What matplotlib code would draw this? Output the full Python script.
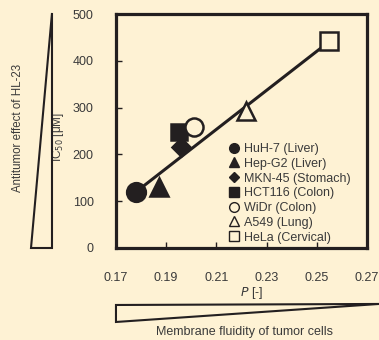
import numpy as np
import matplotlib
matplotlib.use("Agg")
import matplotlib.pyplot as plt
from matplotlib.patches import Polygon
from matplotlib.lines import Line2D

plt.rcParams['font.family'] = ['Liberation Sans', 'DejaVu Sans']
plt.rcParams['font.size'] = 9

bg = '#fef2d4'
ink = '#231f20'
txt = '#3a3a3a'

# cell lines: membrane fluidity P vs IC50 of HL-23
cells = ['HuH-7 (Liver)', 'Hep-G2 (Liver)', 'MKN-45 (Stomach)', 'HCT116 (Colon)',
         'WiDr (Colon)', 'A549 (Lung)', 'HeLa (Cervical)']
p_val = [0.178, 0.187, 0.196, 0.195, 0.201, 0.222, 0.255]
ic50 = [120, 130, 215, 248, 258, 292, 442]
markers = ['o', '^', 'D', 's', 'o', '^', 's']
filled = [True, True, True, True, False, False, False]
sizes = [13.5, 12.5, 9, 12, 13, 13, 13]

# regression line
trend_x = [0.178, 0.256]
slope, intercept = 4170, -622.3

xticks = [0.17, 0.19, 0.21, 0.23, 0.25, 0.27]
yticks = [0, 100, 200, 300, 400, 500]

fig = plt.figure(figsize=(3.79, 3.40), dpi=100, facecolor=bg)
ax = fig.add_axes([0.306, 0.2706, 0.662, 0.6882], facecolor=bg)

tx = np.array(trend_x)
ax.plot(tx, slope * tx + intercept, color=ink, lw=2.2, zorder=2)

for x, y, m, f, s in zip(p_val, ic50, markers, filled, sizes):
    ax.plot(x, y, marker=m, ms=s, mfc=ink if f else bg, mec=ink, mew=1.8,
            ls='none', zorder=3)

ax.set_xlim(0.17, 0.27)
ax.set_ylim(0, 500)
ax.set_xticks(xticks)
ax.set_yticks(yticks)
ax.set_xticklabels(['%.2f' % v for v in xticks])
ax.tick_params(direction='in', length=4, width=1, colors=ink, labelcolor=txt,
               labelsize=9)
ax.tick_params(axis='x', pad=17)
ax.tick_params(axis='y', pad=16)
for sp in ax.spines.values():
    sp.set_linewidth(2.3)
    sp.set_color(ink)

ax.set_ylabel('IC$_{50}$ [μM]', color=txt, fontsize=8.5)
ax.yaxis.set_label_coords(-0.2, 0.474)
ax.set_xlabel(r'$\it{P}$ [-]', color=txt, fontsize=9)
ax.xaxis.set_label_coords(0.54, -0.158)

handles = [Line2D([], [], marker=m, ls='none', ms=7, mfc=ink if f else bg,
                  mec=ink, mew=1.0) for m, f in zip(markers, filled)]
handles[2].set_markersize(5.5)
leg = ax.legend(handles, cells, loc='upper left', bbox_to_anchor=(0.435, 0.47),
                frameon=False, handlelength=0.6, handletextpad=0.55,
                labelspacing=0.22, borderaxespad=0, fontsize=9)
for t in leg.get_texts():
    t.set_color(txt)

# wedge on the left: antitumor effect
fig.add_artist(Polygon([[0.0818, 0.2706], [0.1372, 0.2706], [0.1372, 0.9618]],
                       closed=True, fill=False, ec=ink, lw=1.5,
                       transform=fig.transFigure))
fig.text(0.047, 0.624, 'Antitumor effect of HL-23', rotation=90, ha='center',
         va='center', color=txt, fontsize=8.3)

# wedge at the bottom: membrane fluidity
fig.add_artist(Polygon([[0.306, 0.103], [0.306, 0.053], [1.0, 0.106]],
                       closed=True, fill=False, ec=ink, lw=1.5,
                       transform=fig.transFigure))
fig.text(0.646, 0.024, 'Membrane fluidity of tumor cells', ha='center',
         va='center', color=txt, fontsize=9)

fig.savefig('out.png', dpi=100, facecolor=bg)
